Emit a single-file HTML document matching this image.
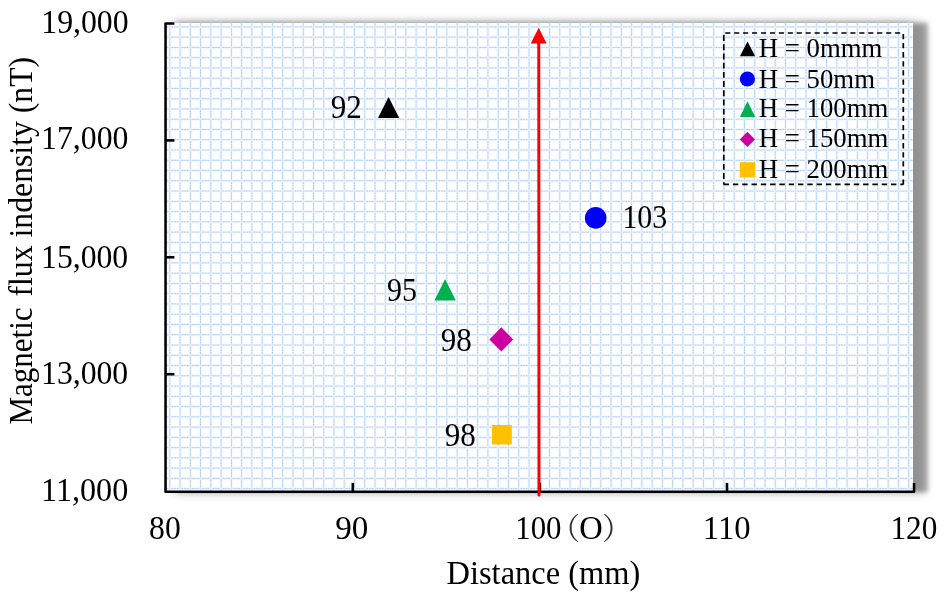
<!DOCTYPE html>
<html>
<head>
<meta charset="utf-8">
<style>
html,body{margin:0;padding:0;background:#fff;}
body{width:945px;height:598px;position:relative;overflow:hidden;}
#shadow{position:absolute;left:164px;top:22.5px;width:749px;height:469.5px;background:#fff;
box-shadow:15px 0 4px 0 rgba(0,0,0,0.27), 10px 0 8px 1.5px rgba(0,0,0,0.22);}
#topsh{position:absolute;left:168px;top:15px;width:750px;height:7.5px;background:linear-gradient(to bottom,rgba(0,0,0,0),rgba(0,0,0,0.09));-webkit-mask-image:linear-gradient(to right,transparent,#000 10px,#000 738px,transparent);mask-image:linear-gradient(to right,transparent,#000 10px,#000 738px,transparent);}
svg{position:absolute;left:0;top:0;}
text{font-family:"Liberation Serif","Times New Roman",serif;fill:#000;}
</style>
</head>
<body>
<div id="shadow"></div>
<div id="topsh"></div>
<svg width="945" height="598" viewBox="0 0 945 598">
<defs>
<pattern id="grid" patternUnits="userSpaceOnUse" x="164.67" y="21.75" width="10.262" height="10.262">
<rect x="0" y="4.48" width="10.262" height="1.3" fill="#d5e7fb"/>
<rect x="4.48" y="0" width="1.3" height="10.262" fill="#d5e7fb"/>
<g fill="#9ec0ec">
<rect x="-0.6" y="4.53" width="1.2" height="1.2"/>
<rect x="9.662" y="4.53" width="1.2" height="1.2"/>
<rect x="1.965" y="4.53" width="1.2" height="1.2"/>
<rect x="7.095" y="4.53" width="1.2" height="1.2"/>
</g>
<g fill="#9ec0ec">
<rect x="4.53" y="-0.6" width="1.2" height="1.2"/>
<rect x="4.53" y="9.662" width="1.2" height="1.2"/>
<rect x="4.53" y="1.965" width="1.2" height="1.2"/>
<rect x="4.53" y="7.095" width="1.2" height="1.2"/>
</g>
</pattern>
</defs>
<!-- plot area fill -->
<rect x="164" y="22.5" width="749" height="469.5" fill="url(#grid)"/>

<!-- axes -->
<g stroke="#000" stroke-width="2.55" fill="none" stroke-linecap="butt">
<path d="M174.4 23.5 H165.55 V491.8 H914.05 V482.9" stroke-linejoin="round"/>
<path d="M165.55 140.4 H174.4"/>
<path d="M165.55 257.3 H174.4"/>
<path d="M165.55 374.2 H174.4"/>
<path d="M352.8 491.8 V482.9"/>
<path d="M539.9 491.8 V482.9"/>
<path d="M727.0 491.8 V482.9"/>
</g>

<!-- red arrow -->
<line x1="538.75" y1="40" x2="539.0" y2="495.1" stroke="#ff0000" stroke-width="3" stroke-linecap="round"/>
<polygon points="538.7,27.7 530.7,43.4 546.6,43.4" fill="#ff0000"/>

<!-- markers -->
<polygon points="388.6,97 378,118 399.2,118" fill="#000"/>
<circle cx="595.7" cy="217.9" r="10.8" fill="#0000ff"/>
<polygon points="445.1,279 434.4,300.4 455.8,300.4" fill="#00b050"/>
<polygon points="501.3,327.3 513.2,339.4 501.3,351.5 489.4,339.4" fill="#cc00a0"/>
<rect x="492" y="425" width="19.8" height="19.5" fill="#ffc000"/>

<!-- data labels -->
<g font-size="33.4">
<text transform="translate(330.68 118.4) scale(0.931 1)">92</text>
<text transform="translate(622.40 227.7) scale(0.895 1)">103</text>
<text transform="translate(387.01 300.8) scale(0.897 1)">95</text>
<text transform="translate(440.68 350.9) scale(0.929 1)">98</text>
<text transform="translate(444.68 445.9) scale(0.929 1)">98</text>
</g>

<!-- legend -->
<g fill="none" stroke="#000" stroke-width="1.7">
<path d="M725.2 33 H903.4" stroke-dasharray="5.1 3.84"/>
<path d="M903.3 33.9 V184.5" stroke-dasharray="5.3 3.8"/>
<path d="M723.6 184.4 H903.4" stroke-dasharray="5.4 3.9"/>
<path d="M723.8 35.1 V184.4" stroke-dasharray="5.9 3.3"/>
</g>
<polygon points="747.5,41.4 739.9,56.2 755.2,56.2" fill="#000"/>
<circle cx="747.4" cy="79" r="7.6" fill="#0000ff"/>
<polygon points="747.5,101.3 739.9,117 755.2,117" fill="#00b050"/>
<polygon points="747.4,131.7 755,139.4 747.4,147 739.8,139.4" fill="#cc00a0"/>
<rect x="739.8" y="162.2" width="15.2" height="15.2" fill="#ffc000"/>
<g font-size="26.5" transform="translate(758.8 0.4) scale(1.01 1)">
<text x="0" y="56.7">H = 0mmm</text>
<text x="0" y="87.2">H = 50mm</text>
<text x="0" y="117">H = 100mm</text>
<text x="0" y="147">H = 150mm</text>
<text x="0" y="177.4">H = 200mm</text>
</g>

<!-- y tick labels -->
<g font-size="33.4">
<text transform="translate(41.24 32.5) scale(0.952 1)">19,000</text>
<text transform="translate(41.04 149.0) scale(0.951 1)">17,000</text>
<text transform="translate(41.05 267.5) scale(0.949 1)">15,000</text>
<text transform="translate(41.05 384.1) scale(0.949 1)">13,000</text>
<text transform="translate(41.01 501.1) scale(0.963 1)">11,000</text>
</g>

<!-- x tick labels -->
<g font-size="33.4">
<text transform="translate(149.07 539.2) scale(0.948 1)">80</text>
<text transform="translate(335.21 539.2) scale(0.994 1)">90</text>
<text transform="translate(515.22 539.2) scale(0.924 1)">100</text>
<text transform="translate(702.86 539.2) scale(0.978 1)">110</text>
<text transform="translate(890.38 539.2) scale(0.937 1)">120</text>
</g>
<g font-size="30.2" style="font-family:'Noto Serif CJK SC','Noto Serif CJK JP',serif">
<text x="550.1" y="539.3" style="font-family:'Noto Serif CJK SC',serif;fill:#333">（</text>
<text x="601.9" y="539.3" style="font-family:'Noto Serif CJK SC',serif;fill:#333">）</text>
</g>
<text font-size="33.4" transform="translate(579.24 539.2) scale(0.972 1)">O</text>

<!-- axis titles -->
<text font-size="33.4" transform="translate(446.53 583.6) scale(0.972 1)">Distance (mm)</text>
<text font-size="33.4" transform="translate(32.1 424.55) rotate(-90) scale(0.929 1)">Magnetic</text>
<text font-size="33.4" transform="translate(32.1 296.5) rotate(-90) scale(0.950 1)">flux indensity (nT)</text>
</svg>
</body>
</html>
